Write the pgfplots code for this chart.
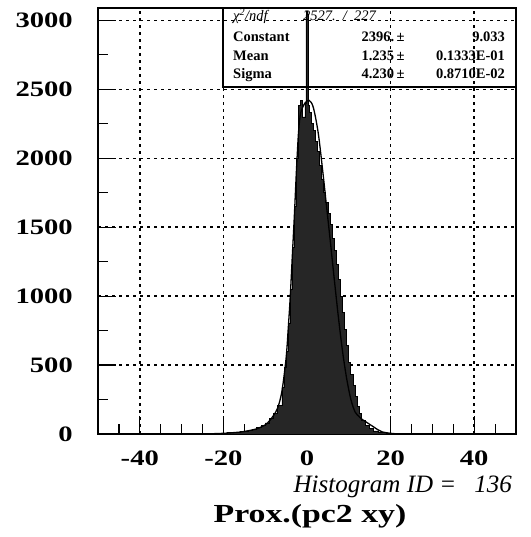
\documentclass[border=0pt]{standalone}
\usepackage{fontspec}
\setmainfont{Liberation Serif}
\newfontfamily\widefont{Liberation Serif}[FakeStretch=1.3]
\usepackage{pgfplots}
\pgfplotsset{compat=1.18}

\begin{document}
\begin{tikzpicture}[x=1pt,y=1pt]
\useasboundingbox (0,0) rectangle (530,537);
\begin{axis}[
  at={(98pt,103pt)}, anchor=south west,
  scale only axis, width=418pt, height=426pt,
  xmin=-50, xmax=50, ymin=0, ymax=3090,
  xtick={-40,-20,0,20,40},
  minor xtick={-45,-35,-30,-25,-15,-10,-5,5,10,15,25,30,35,45},
  ytick={0,500,...,3000},
  minor ytick={250,750,...,2750},
  tick align=inside, xtick pos=bottom, ytick pos=left,
  major tick length=18pt, minor tick length=10pt,
  every tick/.style={black, line width=1.2pt},
  axis line style={line width=1.5pt},
  grid=major,
  major grid style={black, line width=1.5pt, dash pattern=on 2.5pt off 4.5pt},
  /pgf/number format/assume math mode=true,
  /pgf/number format/1000 sep={},
  scaled ticks=false,
  ticklabel style={font=\widefont\bfseries\fontsize{22}{24}\selectfont, inner sep=0pt},
  yticklabel style={anchor=east, xshift=-25pt},
  xticklabel style={anchor=north, yshift=-17pt},
  clip=false,
]
% histogram
\addplot[const plot, fill=black!85, draw=black, line width=0.8pt] coordinates {
  (-25,2) (-24,3) (-23,4) (-22,5) (-21,6) (-20,7) (-19,9) (-18,11) (-17,14)
  (-16,18) (-15,22) (-14,28) (-13,35) (-12,45) (-11,60) (-10,80) (-9,110)
  (-8,150) (-7,210) (-6,340) (-5.5,480) (-5,600) (-4.5,800) (-4,1050)
  (-3.5,1350) (-3,1650) (-2.5,2000) (-2,2380) (-1.5,2420) (-1,2300)
  (-0.5,2400) (-0.25,3040) (0.25,2380) (0.5,2330) (1,2250) (1.5,2200)
  (2,2120) (2.5,2050) (3,1950) (3.5,1850) (4,1750) (4.5,1680) (5,1600)
  (5.5,1520) (6,1420) (6.5,1330) (7,1230) (7.5,1120) (8,1000) (8.5,880)
  (9,760) (9.5,640) (10,520) (10.5,430) (11,350) (11.5,270) (12,200)
  (12.5,150) (13,100) (14,60) (15,40) (16,22) (17,14) (18,10) (19,7)
  (20,5) (21,3) (22,2) (23,2) (24,0)
} \closedcycle;
% fit curve
\addplot[black, line width=1.3pt, smooth] coordinates {
  (-25,0) (-20,5) (-16,14) (-14,24) (-12,38) (-10,66) (-9,95) (-8,135)
  (-7,190) (-6,310) (-5,550) (-4.5,760) (-4,1000) (-3.5,1300) (-3,1600)
  (-2.5,1930) (-2,2200) (-1.5,2330) (-0.5,2400) (0.5,2420) (1.5,2370)
  (2.7,2180) (3.9,1870) (4.5,1700) (5.5,1420) (6.5,1130) (7.5,850)
  (8.5,600) (9.5,400) (10.5,250) (11.5,160) (12.5,125) (13,110) (14,90)
  (15,70) (16,50) (17,30) (18,15) (20,5) (22,0)
};
% statistics box
\draw[line width=1.2pt] (rel axis cs:0.299,1) rectangle (rel axis cs:1,0.8146);
\begin{scope}[every node/.style={inner sep=0pt, font=\bfseries\fontsize{14.5}{16}\selectfont}]
\node[anchor=base west] at (rel axis cs:0.323,0.9695) {\mdseries\itshape χ\textsuperscript{2}/ndf};
\node[anchor=base west] at (rel axis cs:0.490,0.9695) {\mdseries\itshape 2527.\ \ /\ \ 227};
\node[anchor=base west] at (rel axis cs:0.323,0.9214) {Constant};
\node[anchor=base west] at (rel axis cs:0.323,0.8756) {Mean};
\node[anchor=base west] at (rel axis cs:0.323,0.8345) {Sigma};
\node[anchor=base east] at (rel axis cs:0.734,0.9214) {2396.\,±};
\node[anchor=base east] at (rel axis cs:0.734,0.8756) {1.235\,±};
\node[anchor=base east] at (rel axis cs:0.734,0.8345) {4.230\,±};
\node[anchor=base east] at (rel axis cs:0.974,0.9214) {9.033};
\node[anchor=base east] at (rel axis cs:0.974,0.8756) {0.1333E-01};
\node[anchor=base east] at (rel axis cs:0.974,0.8345) {0.8710E-02};
\end{scope}
\end{axis}
\node[anchor=base east, inner sep=0pt, font=\itshape\fontsize{25}{27}\selectfont] at (512,44) {Histogram ID =\hspace{18pt}136};
\node[anchor=base, inner sep=0pt, font=\widefont\bfseries\fontsize{26}{28}\selectfont] at (310,14) {Prox.(pc2 xy)};
\end{tikzpicture}
\end{document}
